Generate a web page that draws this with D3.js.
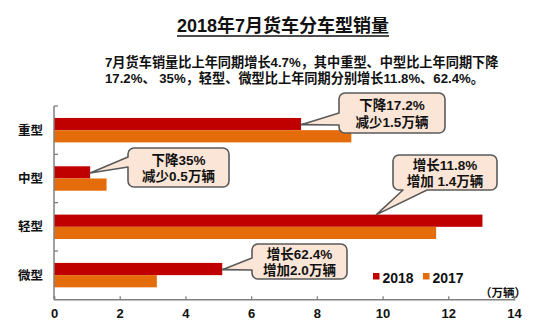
<!DOCTYPE html>
<html>
<head>
<meta charset="utf-8">
<script src="https://cdn.jsdelivr.net/npm/d3@7"></script>
<style>
  html, body { margin: 0; padding: 0; background: #fff; }
  svg { display: block; font-family: "Liberation Sans", Arial, "Noto Sans CJK SC", sans-serif; }
</style>
</head>
<body>
<svg id="chart" width="554" height="325"></svg>
<script>
// Truck sales by type, July 2018 vs July 2017 (unit: 10k vehicles)
const categories = ["重型", "中型", "轻型", "微型"];
const seriesNames = ["2018", "2017"];
const values2018 = [7.52, 1.10, 13.04, 5.12];
const values2017 = [9.05, 1.60, 11.63, 3.13];
const xTicks = [0, 2, 4, 6, 8, 10, 12, 14];
const seriesColors = ["#c00000", "#e46c0a"];

const titleText = "2018年7月货车分车型销量";
const subtitleLines = [
  "7月货车销量比上年同期增长4.7%，其中重型、中型比上年同期下降",
  "17.2%、 35%，轻型、微型比上年同期分别增长11.8%、62.4%。"
];
const unitText = "（万辆）";

// Callout notes: text lines, box geometry and which side the pointer leaves from
const callouts = [
  { cat: "重型", lines: ["下降17.2%", "减少1.5万辆"], box: [339, 93, 106, 40], side: "left",   base: [113, 125] },
  { cat: "中型", lines: ["下降35%", "减少0.5万辆"],   box: [128, 148, 101, 39], side: "left",   base: [157, 167] },
  { cat: "轻型", lines: ["增长11.8%", "增加 1.4万辆"], box: [393, 155, 104, 35], side: "bottom", base: [403, 427] },
  { cat: "微型", lines: ["增长62.4%", "增加2.0万辆"], box: [252, 244, 95, 35],  side: "left",   base: [258, 270] }
];

const svg = d3.select("#chart");

const x = d3.scaleLinear().domain([0, 14]).range([54, 514]);
const y = d3.scaleBand().domain(categories).range([106, 299.3]);
const ySub = d3.scaleBand().domain(seriesNames).range([0, y.bandwidth()]).paddingOuter(0.98);
const color = d3.scaleOrdinal().domain(seriesNames).range(seriesColors);

const rows = categories.map((c, i) => ({ cat: c, vals: [values2018[i], values2017[i]] }));

// Title with underline
const title = svg.append("text")
  .attr("x", 283).attr("y", 32)
  .attr("text-anchor", "middle")
  .attr("font-size", 18).attr("font-weight", "bold").attr("fill", "#111")
  .text(titleText);
const tb = title.node().getBBox();
svg.append("line")
  .attr("x1", tb.x).attr("x2", tb.x + tb.width)
  .attr("y1", 36).attr("y2", 36)
  .attr("stroke", "#111").attr("stroke-width", 1.5);

// Subtitle
svg.append("g").selectAll("text").data(subtitleLines).join("text")
  .attr("x", 105).attr("y", (d, i) => 67 + i * 16)
  .attr("font-size", 13.2).attr("font-weight", "bold").attr("fill", "#111")
  .text(d => d);

// Bars
const groups = svg.append("g").selectAll("g").data(rows).join("g")
  .attr("transform", d => `translate(0,${y(d.cat)})`);
groups.selectAll("rect").data(d => d.vals.map((v, i) => ({ key: seriesNames[i], v })))
  .join("rect")
  .attr("x", x(0))
  .attr("y", d => ySub(d.key))
  .attr("width", d => x(d.v) - x(0))
  .attr("height", ySub.bandwidth())
  .attr("fill", d => color(d.key));

// Category axis
const yg = svg.append("g").attr("transform", `translate(${x(0)},0)`);
yg.append("line")
  .attr("x1", 0).attr("x2", 0).attr("y1", 106).attr("y2", 299.3)
  .attr("stroke", "#808080").attr("stroke-width", 1.5);
yg.selectAll("line.tk").data(categories.map(c => y(c)))
  .join("line").attr("class", "tk")
  .attr("x1", 0).attr("x2", 4).attr("y1", d => d).attr("y2", d => d)
  .attr("stroke", "#808080").attr("stroke-width", 1.3);
svg.append("g").selectAll("text").data(categories).join("text")
  .attr("x", 43).attr("y", d => y(d) + y.bandwidth() / 2 + 4.5)
  .attr("text-anchor", "end")
  .attr("font-size", 12.5).attr("font-weight", "bold").attr("fill", "#111")
  .text(d => d);

// Value axis
const xAxis = d3.axisBottom(x).tickValues(xTicks).tickSize(-3).tickPadding(9).tickFormat(d3.format("d"));
const xg = svg.append("g").attr("transform", "translate(0,299.3)").call(xAxis);
xg.select(".domain").attr("stroke", "#808080").attr("stroke-width", 1.5);
xg.selectAll(".tick line").attr("stroke", "#808080").attr("stroke-width", 1.3);
xg.selectAll(".tick text")
  .attr("font-size", 13).attr("font-weight", "bold").attr("fill", "#111")
  .attr("font-family", "Liberation Sans, Arial, sans-serif");

// Unit label
svg.append("text")
  .attr("x", 526).attr("y", 297)
  .attr("text-anchor", "end")
  .attr("font-size", 11.5).attr("font-weight", "bold").attr("fill", "#111")
  .attr("font-family", "Noto Sans CJK SC, sans-serif")
  .text(unitText);

// Legend
const legend = svg.append("g").attr("transform", "translate(373,273)");
const li = legend.selectAll("g").data(seriesNames).join("g")
  .attr("transform", (d, i) => `translate(${i * 50},0)`);
li.append("rect").attr("width", 6.5).attr("height", 6.5).attr("fill", d => color(d));
li.append("text").attr("x", 9.5).attr("y", 10)
  .attr("font-size", 14).attr("font-weight", "bold").attr("fill", "#111")
  .text(d => d);

// Callout outline: rounded box with a pointer wedge to the bar end
function calloutPath(c, tip) {
  const [bx, by, bw, bh] = c.box;
  const r = 6;
  const p = d3.path();
  p.moveTo(bx + r, by);
  p.lineTo(bx + bw - r, by);
  p.arcTo(bx + bw, by, bx + bw, by + r, r);
  p.lineTo(bx + bw, by + bh - r);
  p.arcTo(bx + bw, by + bh, bx + bw - r, by + bh, r);
  if (c.side === "bottom") {
    p.lineTo(c.base[1], by + bh);
    p.lineTo(tip[0], tip[1]);
    p.lineTo(c.base[0], by + bh);
  }
  p.lineTo(bx + r, by + bh);
  p.arcTo(bx, by + bh, bx, by + bh - r, r);
  if (c.side === "left") {
    p.lineTo(bx, c.base[1]);
    p.lineTo(tip[0], tip[1]);
    p.lineTo(bx, c.base[0]);
  }
  p.lineTo(bx, by + r);
  p.arcTo(bx, by, bx + r, by, r);
  p.closePath();
  return p.toString();
}

const cg = svg.append("g").selectAll("g").data(callouts).join("g");
cg.append("path")
  .attr("d", c => {
    const i = categories.indexOf(c.cat);
    const tipX = c.side === "bottom" ? x(values2018[i]) - 106 : x(values2018[i]);
    const tipY = c.side === "bottom"
      ? y(c.cat) + ySub("2018")
      : y(c.cat) + ySub("2018") + ySub.bandwidth() * 0.55;
    return calloutPath(c, [tipX, tipY]);
  })
  .attr("fill", "#fbe5d6")
  .attr("stroke", "#5a5a5a").attr("stroke-width", 1.6)
  .attr("stroke-linejoin", "round");
cg.each(function (c) {
  const [bx, by, bw, bh] = c.box;
  d3.select(this).selectAll("text").data(c.lines).join("text")
    .attr("x", bx + bw / 2)
    .attr("y", (d, i) => by + bh / 2 - 3 + i * 16.5)
    .attr("text-anchor", "middle")
    .attr("font-size", 13.5).attr("font-weight", "bold").attr("fill", "#111")
    .text(d => d);
});
</script>
</body>
</html>
